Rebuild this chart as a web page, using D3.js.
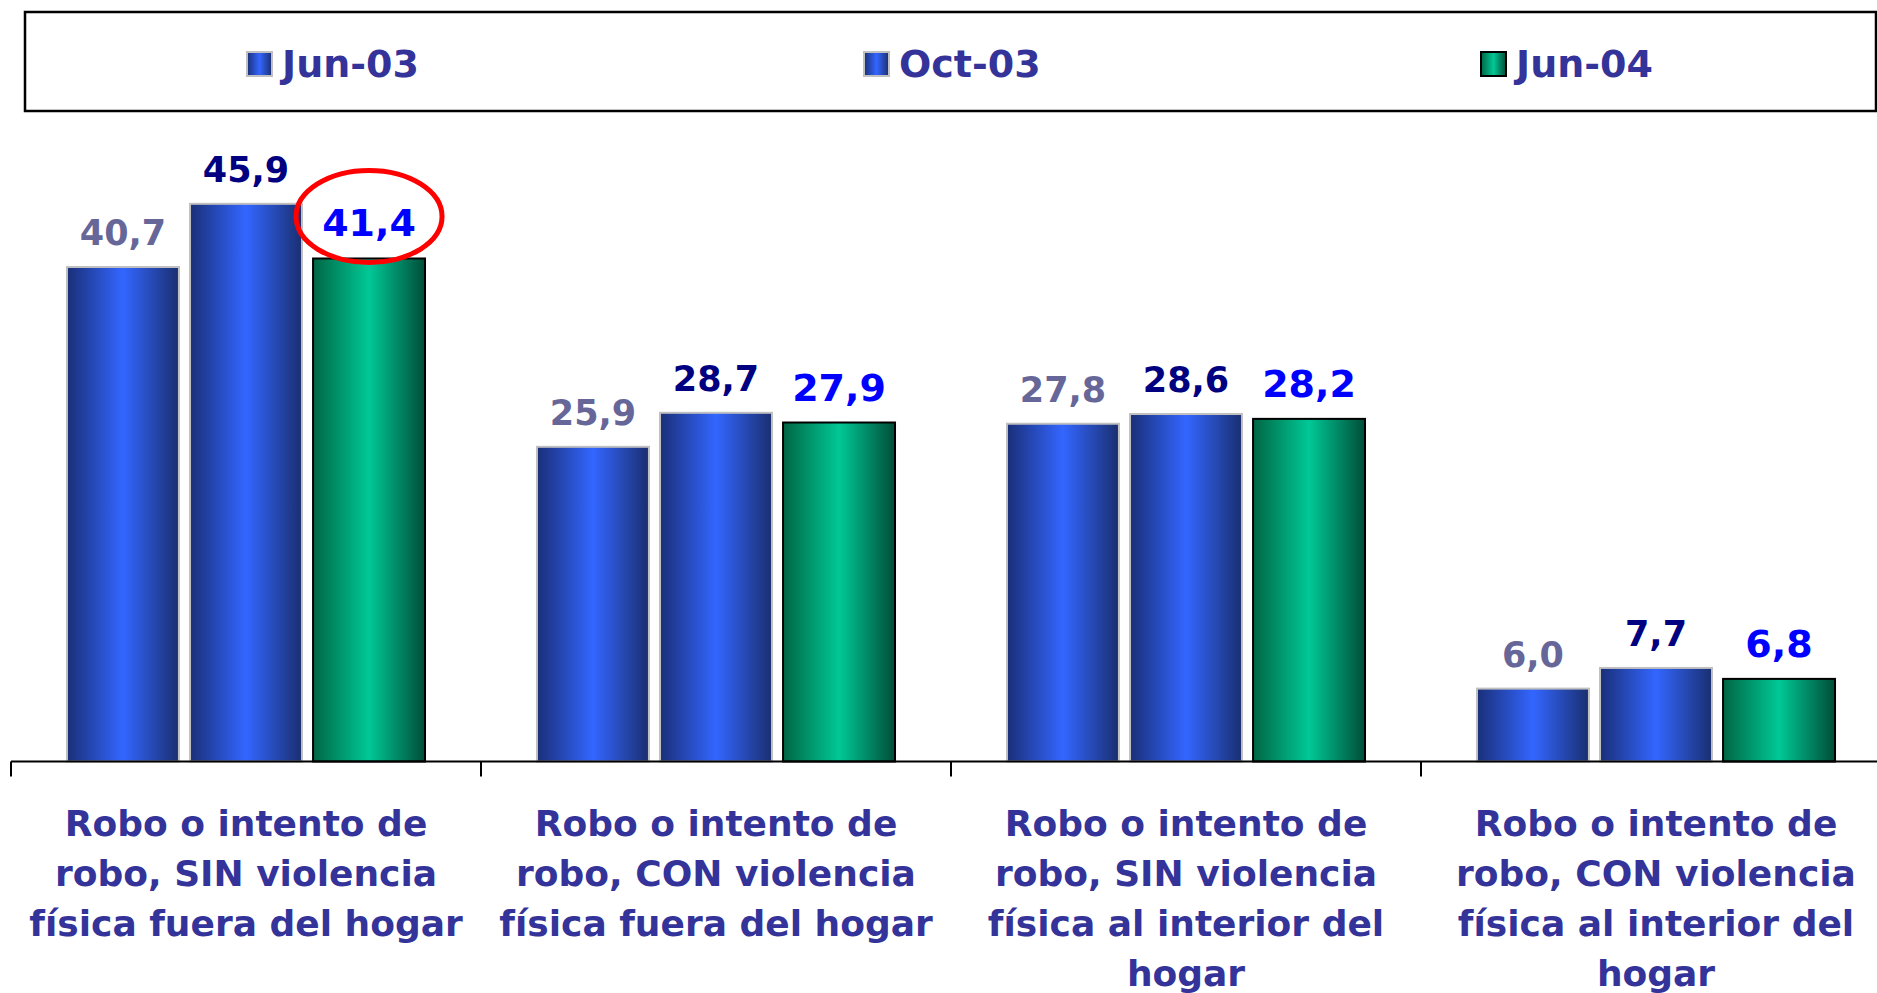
<!DOCTYPE html>
<html>
<head>
<meta charset="utf-8">
<script src="https://cdn.jsdelivr.net/npm/d3@7"></script>
<style>
  body { margin: 0; background: #fff; }
  text { font-family: "DejaVu Sans", Verdana, sans-serif; font-weight: bold; }
</style>
</head>
<body>
<div id="chart"></div>
<script>
// Données
const categories = [
  ["Robo o intento de", "robo, SIN violencia", "física fuera del hogar"],
  ["Robo o intento de", "robo, CON violencia", "física fuera del hogar"],
  ["Robo o intento de", "robo, SIN violencia", "física al interior del", "hogar"],
  ["Robo o intento de", "robo, CON violencia", "física al interior del", "hogar"]
];
const series = ["Jun-03", "Oct-03", "Jun-04"];
const jun03 = [40.7, 25.9, 27.8, 6.0];
const oct03 = [45.9, 28.7, 28.6, 7.7];
const jun04 = [41.4, 27.9, 28.2, 6.8];
const values = [jun03, oct03, jun04];

// Styles par série
const fills = ["url(#gBlue)", "url(#gBlue)", "url(#gGreen)"];
const strokes = ["#c0c0c0", "#c0c0c0", "#000"];
const labelColors = ["#666699", "#000080", "#0000ff"];
const labelSizes = [35, 35, 38];

const width = 1877, height = 993;

const svg = d3.select("#chart")
  .append("svg")
  .attr("width", width)
  .attr("height", height);

// dégradés
const defs = svg.append("defs");
function gradient(id, edgeL, mid, edgeR) {
  const g = defs.append("linearGradient").attr("id", id)
    .attr("x1", 0).attr("x2", 1).attr("y1", 0).attr("y2", 0);
  g.append("stop").attr("offset", "0%").attr("stop-color", edgeL);
  g.append("stop").attr("offset", "50%").attr("stop-color", mid);
  g.append("stop").attr("offset", "100%").attr("stop-color", edgeR);
}
gradient("gBlue", "#1a2f78", "#3366ff", "#1a2f70");
gradient("gGreen", "#006644", "#00c896", "#004d38");

// échelles
const catIdx = d3.range(categories.length);
const x0 = d3.scaleBand()
  .domain(catIdx)
  .range([11, 11 + 470 * categories.length]);

const x1 = d3.scaleBand()
  .domain(d3.range(series.length))
  .range([0, x0.bandwidth()])
  .paddingInner(0.09)
  .paddingOuter(0.455);

const y = d3.scaleLinear()
  .domain([0, 50])
  .range([761.5, 154]);

// Légende
const legend = svg.append("g");
legend.append("rect")
  .attr("x", 25).attr("y", 12)
  .attr("width", 1851).attr("height", 99)
  .attr("fill", "none")
  .attr("stroke", "#000")
  .attr("stroke-width", 2.5);

const legendX = d3.scaleBand().domain(d3.range(series.length)).range([25, 1876]);
const items = legend.selectAll("g.item")
  .data(series)
  .enter()
  .append("g")
  .attr("transform", (d, i) => `translate(${legendX(i) + 222},0)`);

items.append("rect")
  .attr("x", 0).attr("y", 52)
  .attr("width", 25).attr("height", 24)
  .attr("fill", (d, i) => fills[i])
  .attr("stroke", (d, i) => strokes[i])
  .attr("stroke-width", 2);

items.append("text")
  .attr("x", 35).attr("y", 77)
  .attr("fill", "#333399")
  .style("font-size", "38px")
  .text(d => d);

// Barres
const groups = svg.selectAll("g.cat")
  .data(catIdx)
  .enter()
  .append("g")
  .attr("transform", c => `translate(${x0(c)},0)`);

groups.selectAll("rect")
  .data(c => values.map((v, s) => ({ s: s, v: v[c] })))
  .enter()
  .append("rect")
  .attr("x", d => x1(d.s))
  .attr("y", d => y(d.v))
  .attr("width", x1.bandwidth())
  .attr("height", d => y(0) - y(d.v))
  .attr("fill", d => fills[d.s])
  .attr("stroke", d => strokes[d.s])
  .attr("stroke-width", 2);

groups.selectAll("text.val")
  .data(c => values.map((v, s) => ({ s: s, v: v[c] })))
  .enter()
  .append("text")
  .attr("class", "val")
  .attr("x", d => x1(d.s) + x1.bandwidth() / 2)
  .attr("y", d => y(d.v) - 22)
  .attr("text-anchor", "middle")
  .attr("fill", d => labelColors[d.s])
  .style("font-size", d => labelSizes[d.s] + "px")
  .text(d => d3.format(".1f")(d.v).replace(".", ","));

// ellipse rouge autour de la première valeur Jun-04
svg.append("ellipse")
  .attr("cx", x0(0) + x1(2) + x1.bandwidth() / 2)
  .attr("cy", y(jun04[0]) - 42)
  .attr("rx", 73)
  .attr("ry", 46)
  .attr("fill", "none")
  .attr("stroke", "#ff0000")
  .attr("stroke-width", 5);

// Axe X
svg.append("line")
  .attr("x1", 11).attr("x2", width)
  .attr("y1", y(0)).attr("y2", y(0))
  .attr("stroke", "#000")
  .attr("stroke-width", 2);

svg.selectAll("line.tick")
  .data(catIdx)
  .enter()
  .append("line")
  .attr("x1", c => x0(c)).attr("x2", c => x0(c))
  .attr("y1", y(0)).attr("y2", y(0) + 15)
  .attr("stroke", "#000")
  .attr("stroke-width", 2);

// Libellés des catégories
const labels = svg.selectAll("text.cat")
  .data(catIdx)
  .enter()
  .append("text")
  .attr("class", "cat")
  .attr("text-anchor", "middle")
  .attr("fill", "#333399")
  .style("font-size", "36px");

labels.selectAll("tspan")
  .data(c => categories[c].map(line => ({ c: c, line: line })))
  .enter()
  .append("tspan")
  .attr("x", d => x0(d.c) + x0.bandwidth() / 2)
  .attr("y", (d, i) => 836 + i * 50)
  .text(d => d.line);
</script>
</body>
</html>
